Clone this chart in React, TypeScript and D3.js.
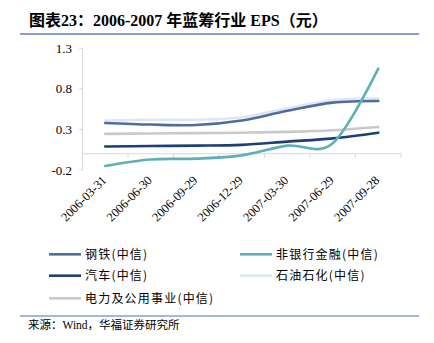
import React from "react";
import * as d3 from "d3";

const dates = ["2006-03-31", "2006-06-30", "2006-09-29", "2006-12-29", "2007-03-30", "2007-06-29", "2007-09-28"];
const steel = [0.38, 0.36, 0.355, 0.41, 0.53, 0.63, 0.65];
const finance = [-0.15, -0.07, -0.06, -0.02, 0.1, 0.13, 1.05];
const auto = [0.09, 0.095, 0.1, 0.11, 0.15, 0.19, 0.26];
const petro = [0.41, 0.42, 0.42, 0.45, 0.56, 0.66, 0.68];
const utility = [0.245, 0.25, 0.255, 0.26, 0.27, 0.29, 0.33];
const yTicks = [-0.2, 0.3, 0.8, 1.3];

const seriesNames = ["钢铁(中信)", "非银行金融(中信)", "汽车(中信)", "石油石化(中信)", "电力及公用事业(中信)"];
const seriesValues = [steel, finance, auto, petro, utility];
const seriesColors = ["#4E6D9C", "#5FAFB6", "#1E3E78", "#DCE7F3", "#C9C9C9"];
const drawOrder = [3, 4, 2, 0, 1];

const FONT = "'Liberation Serif', 'Times New Roman', 'Noto Sans CJK SC', serif";
const CJK = "'Noto Sans CJK SC', 'Liberation Serif', serif";

export default function App() {
  const W = 434, H = 343;
  const x = d3.scaleBand<string>().domain(dates).range([82.5, 401]).padding(0);
  const y = d3.scaleLinear().domain([-0.2, 1.3]).range([170, 48.3]);
  const line = d3
    .line<number>()
    .x((_, i) => (x(dates[i]) as number) + x.bandwidth() / 2)
    .y((d) => y(d))
    .curve(d3.curveCardinal.tension(0));
  const y0 = y(0);

  const legendPos = [
    [49, 254.3],
    [240, 254.3],
    [49, 275.7],
    [240, 275.7],
    [49, 298.3],
  ];

  return (
    <svg width={W} height={H} style={{ position: "absolute", left: 0, top: 0, background: "#fff" }}>
      <text x={29} y={26} fontFamily={FONT} fontWeight="bold" fontSize={16} fill="#000">
        图表23：2006-2007 年蓝筹行业 EPS（元）
      </text>
      <line x1={20} x2={419} y1={34} y2={34} stroke="#5B7FC0" strokeWidth={1.3} />

      {/* y axis */}
      <line x1={82.5} x2={82.5} y1={y(1.3)} y2={y(-0.2)} stroke="#D9D9D9" strokeWidth={1} />
      {yTicks.map((t) => (
        <g key={t}>
          <line x1={79} x2={82.5} y1={y(t)} y2={y(t)} stroke="#D9D9D9" />
          <text x={72} y={y(t)} dy="0.35em" textAnchor="end" fontFamily={FONT} fontSize={13} fill="#000">
            {t.toFixed(1)}
          </text>
        </g>
      ))}

      {/* zero line with ticks */}
      <line x1={82.5} x2={401} y1={y0} y2={y0} stroke="#D9D9D9" strokeWidth={1.2} />
      {dates.map((d) => (
        <line key={d} x1={(x(d) as number) + x.bandwidth()} x2={(x(d) as number) + x.bandwidth()} y1={y0} y2={y0 + 4} stroke="#D9D9D9" />
      ))}

      {/* x labels */}
      {dates.map((d) => {
        const cx = (x(d) as number) + x.bandwidth() / 2 + 2;
        const cy = 181;
        return (
          <text key={d} transform={`translate(${cx},${cy}) rotate(-45)`} textAnchor="end" fontFamily={FONT} fontSize={12.5} fill="#000">
            {d}
          </text>
        );
      })}

      {/* lines */}
      {drawOrder.map((i) => (
        <path key={i} d={line(seriesValues[i]) || ""} fill="none" stroke={seriesColors[i]} strokeWidth={2.6} strokeLinecap="round" />
      ))}

      {/* legend */}
      {seriesNames.map((n, i) => (
        <g key={n}>
          <line x1={legendPos[i][0]} x2={legendPos[i][0] + 32} y1={legendPos[i][1]} y2={legendPos[i][1]} stroke={seriesColors[i]} strokeWidth={2.6} />
          <text x={legendPos[i][0] + 36} y={legendPos[i][1]} dy="0.36em" fontFamily={CJK} fontSize={12} letterSpacing={1.2} fill="#000">
            {n}
          </text>
        </g>
      ))}

      <line x1={20} x2={419} y1={316} y2={316} stroke="#4472C4" strokeWidth={1.2} />
      <text x={28} y={329} fontFamily={FONT} fontSize={11.5} fill="#000">
        来源：Wind，华福证券研究所
      </text>
    </svg>
  );
}
